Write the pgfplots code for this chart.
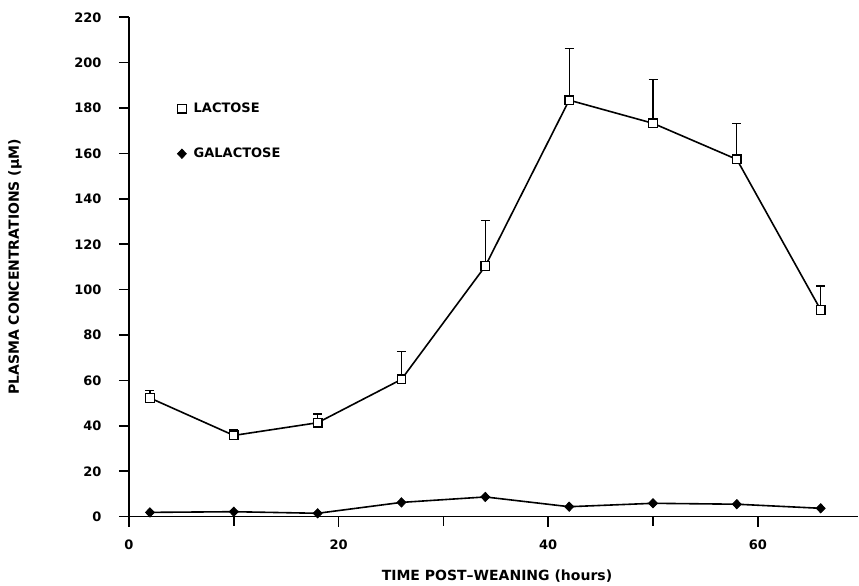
\documentclass[border=0pt]{standalone}
\usepackage{pgfplots}
\pgfplotsset{compat=1.18}
\usepackage{pgfplotstable}
\usepackage{fontspec}
\setmainfont{DejaVu Sans}
\pgfplotstableread{
x y ep
2 52.3 3.2
10 35.8 2.4
18 41.4 3.8
26 60.5 12.2
34 110.4 20.2
42 183.5 22.8
50 173.3 19.4
58 157.4 15.9
66 91.1 10.5
}\lactose
\pgfplotstableread{
x y
2 1.9
10 2.2
18 1.5
26 6.3
34 8.7
42 4.4
50 5.9
58 5.5
66 3.7
}\galactose
\begin{document}
\begin{tikzpicture}
\useasboundingbox (0,0) rectangle (859pt,586pt);
\begin{axis}[
  at={(129pt,69.3pt)}, anchor=south west,
  scale only axis, width=729.4pt, height=499.4pt,
  xmin=0, xmax=69.6, ymin=0, ymax=220,
  axis x line*=bottom, axis y line*=left,
  axis line style={-, line width=1.6pt},
  xtick={0,20,40,60}, xticklabels={0,20,40,60},
  minor xtick={10,30,50},
  ytick={0,20,...,220},
  yticklabels={0,20,40,60,80,100,120,140,160,180,200,220},
  tick align=outside,
  major tick length=10pt, minor tick length=9pt,
  every tick/.style={black, line width=1.6pt},
  tick label style={font=\bfseries\fontsize{13}{15}\selectfont},
  yticklabel style={xshift=-14pt},
  xticklabel style={yshift=-10pt},
  /pgf/number format/assume math mode=true,
  xlabel={TIME POST--WEANING (hours)},
  ylabel={PLASMA CONCENTRATIONS (μM)},
  label style={font=\bfseries\fontsize{14}{16}\selectfont},
  xlabel style={at={(axis description cs:0.5045,-0.1195)}, anchor=center, inner sep=0pt},
  ylabel style={at={(axis description cs:-0.1563,0.5)}, anchor=center},
  legend style={at={(axis cs:4.6,183.2)}, anchor=north west, draw=none, fill=none,
    inner sep=0pt, font=\bfseries\fontsize{13}{15}\selectfont, row sep=30pt},
  legend cell align=left,
  legend image code/.code={\path (0pt,0pt) (9pt,0pt); \draw[#1] plot[only marks] coordinates {(0pt,0pt)};},
]
\addplot[black, line width=1.6pt, mark=square*,
  mark options={fill=white, line width=1.3pt, mark size=4.3pt},
  error bars/.cd, y dir=plus, y explicit,
  error bar style={line width=1.1pt},
  error mark options={rotate=90, mark size=4.5pt, line width=1.2pt}]
  table[x=x, y=y, y error plus=ep] {\lactose};
\addlegendentry{LACTOSE}
\addplot[black, line width=1.6pt, mark=diamond*,
  mark options={fill=black, line width=0.8pt, mark size=4.6pt, xscale=1.3}]
  table[x=x, y=y] {\galactose};
\addlegendentry{GALACTOSE}
\end{axis}
\end{tikzpicture}
\end{document}
